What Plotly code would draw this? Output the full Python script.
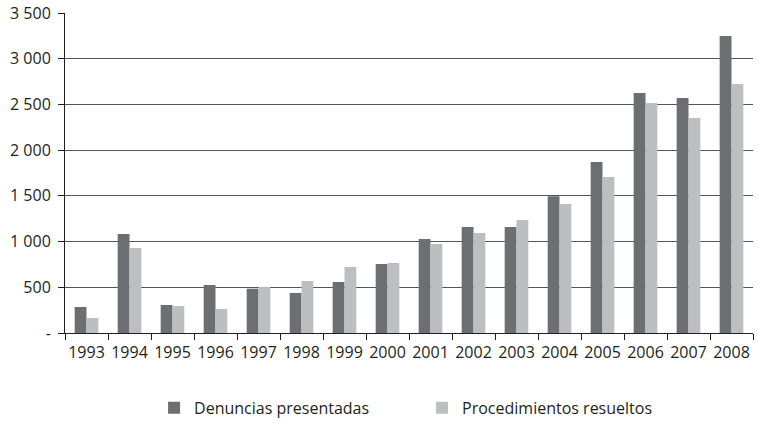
import plotly.graph_objects as go

years = ["1993", "1994", "1995", "1996", "1997", "1998", "1999", "2000",
         "2001", "2002", "2003", "2004", "2005", "2006", "2007", "2008"]
denuncias = [284, 1083, 306, 525, 485, 438, 558, 755,
             1028, 1160, 1160, 1495, 1871, 2626, 2571, 3249]
procedimientos = [164, 930, 295, 262, 505, 569, 722, 766,
                  974, 1094, 1236, 1411, 1707, 2516, 2352, 2724]
y_ticks = [0, 500, 1000, 1500, 2000, 2500, 3000, 3500]
y_tick_labels = ["-", "500", "1 000", "1 500", "2 000", "2 500", "3 000", "3 500"]

font_family = "Open Sans, Noto Sans, sans-serif"
text_color = "#231f20"
fsize = 16

fig = go.Figure()
fig.add_trace(go.Bar(name="Denuncias presentadas", x=years, y=denuncias,
                     marker=dict(color="#6d6e71", line=dict(width=0))))
fig.add_trace(go.Bar(name="Procedimientos resueltos", x=years, y=procedimientos,
                     marker=dict(color="#bcbec0", line=dict(width=0))))

fig.update_layout(
    width=759, height=427,
    margin=dict(l=65, r=6, t=13, b=94),
    paper_bgcolor="white", plot_bgcolor="white",
    barmode="group", bargap=0.45, bargroupgap=0,
    font=dict(family=font_family, size=fsize, color=text_color),
    showlegend=True,
    legend=dict(orientation="h", x=0.519, xanchor="center", xref="paper",
                y=0.005, yanchor="bottom", yref="container",
                font=dict(size=fsize, color=text_color), entrywidth=223, entrywidthmode="pixels",
                traceorder="normal", borderwidth=0, bgcolor="rgba(0,0,0,0)"),
)
fig.update_xaxes(type="category", showline=True, linecolor="#231f20", linewidth=1,
                 ticks="outside", tickson="boundaries", ticklen=6, tickcolor="#231f20",
                 showgrid=False, tickangle=0, automargin=False, ticklabelstandoff=5,
                 tickfont=dict(size=fsize, color=text_color))
fig.update_yaxes(range=[0, 3500], tickvals=y_ticks, ticktext=y_tick_labels,
                 showline=True, linecolor="#231f20", linewidth=1,
                 ticks="outside", ticklen=6, tickcolor="#231f20",
                 showgrid=True, gridcolor="#555555", gridwidth=1, automargin=False,
                 ticklabelstandoff=4,
                 zeroline=False, tickfont=dict(size=fsize, color=text_color))

fig.write_html("out.html", config={"displayModeBar": False},
               post_script="document.body.style.margin='0';")
